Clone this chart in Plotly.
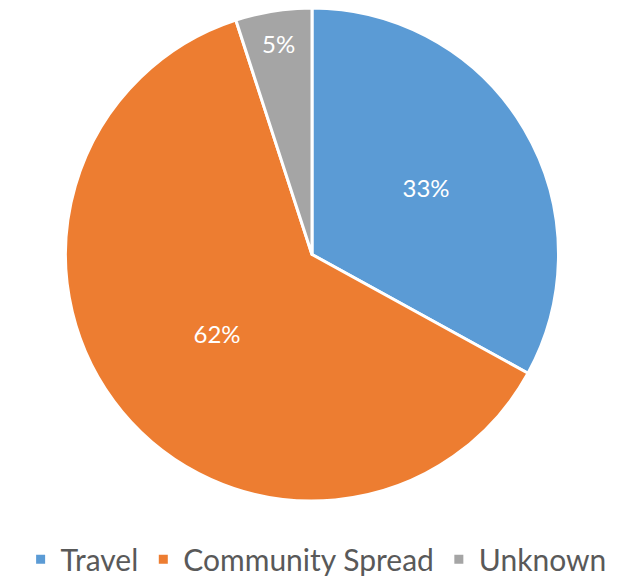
import plotly.graph_objects as go

labels = ["Travel", "Community Spread", "Unknown"]
values = [33, 62, 5]
colors = ["#5B9BD5", "#ED7D31", "#A5A5A5"]

fig = go.Figure(go.Pie(
    labels=labels,
    values=values,
    sort=False,
    direction="clockwise",
    rotation=0,
    marker=dict(colors=colors, line=dict(color="white", width=3)),
    textinfo="percent",
    texttemplate="%{percent:.0%}",
    textposition="inside",
    insidetextorientation="horizontal",
    textfont=dict(family="Lato", size=24, color="white"),
    domain=dict(x=[0.0899, 0.8691], y=[0.1485, 1.0]),
    hoverinfo="skip",
))

fig.update_layout(
    width=634, height=579,
    margin=dict(l=0, r=0, t=0, b=0),
    paper_bgcolor="white",
    showlegend=True,
    legend=dict(
        orientation="h", x=0.486, xanchor="center", y=0.003, yanchor="bottom",
        font=dict(family="Lato", size=30, color="#595959"),
        itemclick=False,
    ),
    uniformtext=dict(minsize=24, mode="show"),
)

fig.write_html("out.html")
